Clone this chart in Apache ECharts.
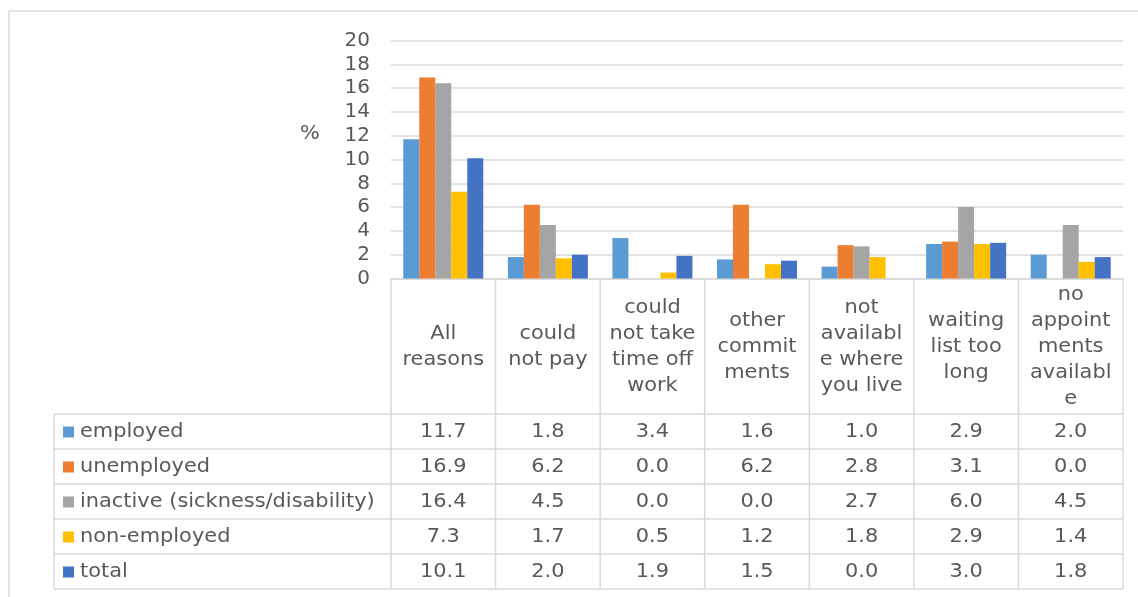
<!doctype html>
<html>
    <head>
        <meta charset="utf-8">
        <title>Reasons for unmet need</title>
        <style>
            html, body { margin: 0; padding: 0; background: #fff; }
            #main { width: 1138px; height: 597px; }
        </style>
    </head>
    <body>
        <div id="main"></div>
        <script src="https://cdn.jsdelivr.net/npm/echarts@6/dist/echarts.min.js"></script>
        <script>
            // chart data
            var categories = ['All\nreasons', 'could\nnot pay', 'could\nnot take\ntime off\nwork', 'other\ncommit\nments',
                'not\navailabl\ne where\nyou live', 'waiting\nlist too\nlong', 'no\nappoint\nments\navailabl\ne'];
            var seriesNames = ['employed', 'unemployed', 'inactive (sickness/disability)', 'non-employed', 'total'];
            var employed = [11.7, 1.8, 3.4, 1.6, 1.0, 2.9, 2.0];
            var unemployed = [16.9, 6.2, 0.0, 6.2, 2.8, 3.1, 0.0];
            var inactive = [16.4, 4.5, 0.0, 0.0, 2.7, 6.0, 4.5];
            var nonEmployed = [7.3, 1.7, 0.5, 1.2, 1.8, 2.9, 1.4];
            var total = [10.1, 2.0, 1.9, 1.5, 0.0, 3.0, 1.8];
            var allValues = [employed, unemployed, inactive, nonEmployed, total];

            var colors = ['#5b9bd5', '#ed7d31', '#a5a5a5', '#ffc000', '#4472c4'];
            var textColor = '#595959';
            var lineColor = '#d9d9d9';
            var fontFamily = 'DejaVu Sans, Verdana, sans-serif';
            var fontSize = 19;
            var stretch = 1.1; // Excel spaces its glyphs a little wider

            var chart = echarts.init(document.getElementById('main'), null, {
                devicePixelRatio: 1
            });

            var gridLeft = 391, gridRight = 1123, gridTop = 40.5, gridBottom = 278.5;

            chart.setOption({
                animation: false,
                textStyle: { fontFamily: fontFamily },
                grid: {
                    left: gridLeft,
                    right: 1138 - gridRight,
                    top: gridTop,
                    bottom: 597 - gridBottom
                },
                xAxis: {
                    type: 'category',
                    data: categories,
                    axisLine: { lineStyle: { color: lineColor, width: 1.5 } },
                    axisTick: { show: false },
                    axisLabel: { show: false }
                },
                yAxis: {
                    type: 'value',
                    min: 0,
                    max: 20,
                    interval: 2,
                    axisLine: { show: false },
                    axisTick: { show: false },
                    splitLine: { lineStyle: { color: lineColor, width: 1.5 } },
                    axisLabel: {
                        color: textColor,
                        fontSize: 20,
                        fontFamily: fontFamily,
                        margin: 21
                    }
                },
                series: seriesNames.map(function (name, i) {
                    return {
                        type: 'bar',
                        name: name,
                        data: allValues[i],
                        barGap: '0%',
                        barCategoryGap: '23.5%',
                        itemStyle: { color: colors[i] }
                    };
                })
            });

            // data table below the plot
            var headerBottom = 414;
            var rowH = 35;
            var tableLeft = 54;
            var colW = (gridRight - gridLeft) / categories.length;
            var els = [];
            var line = function (x1, y1, x2, y2) {
                els.push({
                    type: 'line',
                    shape: { x1: x1, y1: y1, x2: x2, y2: y2 },
                    style: { stroke: lineColor, lineWidth: 1.5 },
                    silent: true
                });
            };
            var text = function (x, y, str, align) {
                els.push({
                    type: 'text',
                    x: x,
                    y: y,
                    scaleX: stretch,
                    style: {
                        text: str,
                        fill: textColor,
                        font: fontSize + 'px ' + fontFamily,
                        align: align,
                        verticalAlign: 'middle',
                        lineHeight: 26
                    },
                    silent: true
                });
            };

            // outer chart frame
            els.push({
                type: 'rect',
                shape: { x: 9, y: 11, width: 1140, height: 600 },
                style: { fill: null, stroke: lineColor, lineWidth: 1.5 },
                silent: true
            });

            var tableBottom = headerBottom + rowH * seriesNames.length;
            for (var c = 0; c <= categories.length; c++) {
                var x = gridLeft + c * colW;
                line(x, gridBottom, x, tableBottom);
            }
            line(tableLeft, headerBottom, tableLeft, tableBottom);
            for (var r = 0; r <= seriesNames.length; r++) {
                var y = headerBottom + r * rowH;
                line(tableLeft, y, gridRight, y);
            }

            categories.forEach(function (cat, i) {
                var cx = chart.convertToPixel({ xAxisIndex: 0 }, i);
                text(cx, (gridBottom + headerBottom) / 2 + 1, cat, 'center');
                allValues.forEach(function (vals, s) {
                    text(cx, headerBottom + s * rowH + rowH / 2 + 1, vals[i].toFixed(1), 'center');
                });
            });

            seriesNames.forEach(function (name, s) {
                var cy = headerBottom + s * rowH + rowH / 2;
                els.push({
                    type: 'rect',
                    shape: { x: 63, y: cy - 5, width: 11, height: 11 },
                    style: { fill: colors[s] },
                    silent: true
                });
                text(80, cy + 1, name, 'left');
            });

            text(310, 134, '%', 'center');

            chart.setOption({ graphic: { elements: els } });

            window.onresize = chart.resize;
        </script>
    </body>
</html>
